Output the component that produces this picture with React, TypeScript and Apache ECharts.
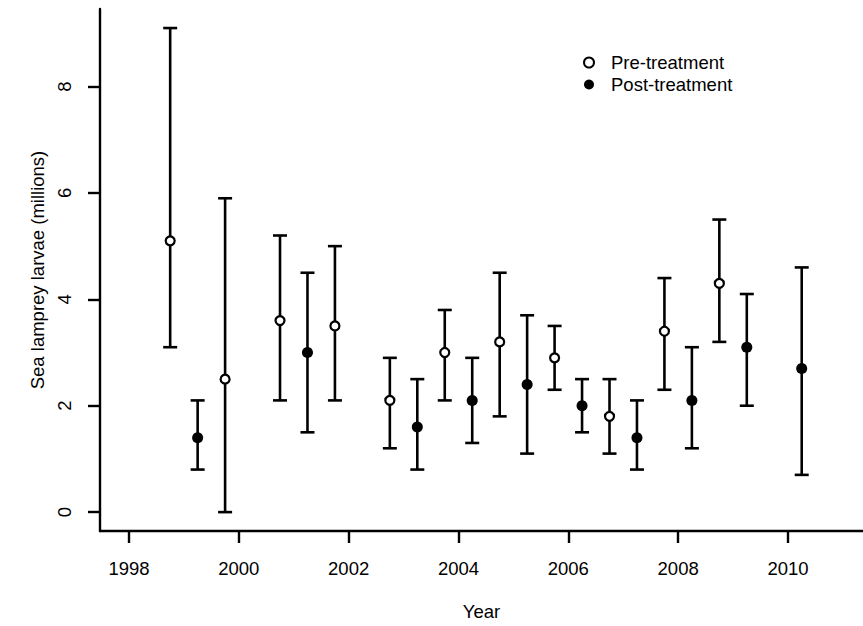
import React, { useEffect, useRef } from "react";
import * as echarts from "echarts";

// Pre-treatment estimates (open circles) with lower / upper bounds
const preYears = [1998.75, 1999.75, 2000.75, 2001.75, 2002.75, 2003.75, 2004.75, 2005.75, 2006.75, 2007.75, 2008.75];
const preMean = [5.1, 2.5, 3.6, 3.5, 2.1, 3.0, 3.2, 2.9, 1.8, 3.4, 4.3];
const preLow = [3.1, 0.0, 2.1, 2.1, 1.2, 2.1, 1.8, 2.3, 1.1, 2.3, 3.2];
const preHigh = [9.1, 5.9, 5.2, 5.0, 2.9, 3.8, 4.5, 3.5, 2.5, 4.4, 5.5];

// Post-treatment estimates (filled circles) with lower / upper bounds
const postYears = [1999.25, 2001.25, 2003.25, 2004.25, 2005.25, 2006.25, 2007.25, 2008.25, 2009.25, 2010.25];
const postMean = [1.4, 3.0, 1.6, 2.1, 2.4, 2.0, 1.4, 2.1, 3.1, 2.7];
const postLow = [0.8, 1.5, 0.8, 1.3, 1.1, 1.5, 0.8, 1.2, 2.0, 0.7];
const postHigh = [2.1, 4.5, 2.5, 2.9, 3.7, 2.5, 2.1, 3.1, 4.1, 4.6];

const xTicks = [1998, 2000, 2002, 2004, 2006, 2008, 2010];
const yTicks = [0, 2, 4, 6, 8];

const FONT = "'Liberation Sans', Arial, Helvetica, sans-serif";
const INK = "#000";

function errorBarSeries(years: number[], lo: number[], hi: number[], name: string) {
  return {
    type: "custom",
    name,
    z: 2,
    data: years.map((y, i) => [y, lo[i], hi[i]]),
    encode: { x: 0, y: [1, 2] },
    renderItem: (_params: any, api: any) => {
      const x = api.value(0);
      const pLo = api.coord([x, api.value(1)]);
      const pHi = api.coord([x, api.value(2)]);
      const cap = 7;
      const style = { stroke: INK, lineWidth: 2.6 };
      return {
        type: "group",
        children: [
          { type: "line", shape: { x1: pLo[0], y1: pLo[1], x2: pHi[0], y2: pHi[1] }, style },
          { type: "line", shape: { x1: pLo[0] - cap, y1: pLo[1], x2: pLo[0] + cap, y2: pLo[1] }, style },
          { type: "line", shape: { x1: pHi[0] - cap, y1: pHi[1], x2: pHi[0] + cap, y2: pHi[1] }, style },
        ],
      };
    },
  };
}

export default function App() {
  const ref = useRef<HTMLDivElement>(null);

  useEffect(() => {
    if (!ref.current) return;
    const chart = echarts.init(ref.current, undefined, { renderer: "svg" });
    chart.setOption({
      animation: false,
      backgroundColor: "#fff",
      textStyle: { fontFamily: FONT, color: INK },
      grid: { left: 100, right: 0, top: 9, bottom: 92, containLabel: false },
      legend: {
        left: 578,
        top: 48,
        orient: "vertical",
        itemWidth: 10,
        itemHeight: 10,
        itemGap: 3,
        selectedMode: false,
        data: [
          { name: "Pre-treatment", icon: "circle", itemStyle: { color: "#fff", borderColor: INK, borderWidth: 2 } },
          { name: "Post-treatment", icon: "circle", itemStyle: { color: INK, borderWidth: 0 } },
        ],
        textStyle: { fontFamily: FONT, fontSize: 18.5, color: INK, padding: [0, 0, 0, 12], lineHeight: 19 },
      },
      xAxis: {
        type: "value",
        min: 1997.472,
        max: 2011.366,
        name: "Year",
        nameLocation: "middle",
        nameGap: 71,
        nameTextStyle: { fontFamily: FONT, fontSize: 18.5, color: INK },
        axisLine: { show: true, onZero: false, lineStyle: { color: INK, width: 2.4 } },
        axisTick: { show: true, length: 12, customValues: xTicks, lineStyle: { color: INK, width: 2.4 } },
        axisLabel: {
          customValues: xTicks,
          margin: 28,
          fontFamily: FONT,
          fontSize: 18.5,
          color: INK,
          formatter: (v: number) => String(Math.round(v)),
        },
        splitLine: { show: false },
      },
      yAxis: {
        type: "value",
        min: -0.355,
        max: 9.458,
        name: "Sea lamprey larvae (millions)",
        nameLocation: "middle",
        nameRotate: 90,
        nameGap: 50,
        nameTextStyle: { fontFamily: FONT, fontSize: 18.5, color: INK },
        axisLine: { show: true, onZero: false, lineStyle: { color: INK, width: 2.4 } },
        axisTick: { show: true, length: 12, customValues: yTicks, lineStyle: { color: INK, width: 2.4 } },
        axisLabel: {
          customValues: yTicks,
          rotate: 90,
          margin: 26,
          fontFamily: FONT,
          fontSize: 18.5,
          color: INK,
        },
        splitLine: { show: false },
      },
      series: [
        errorBarSeries(preYears, preLow, preHigh, "pre-range"),
        errorBarSeries(postYears, postLow, postHigh, "post-range"),
        {
          type: "scatter",
          name: "Pre-treatment",
          z: 3,
          symbol: "circle",
          symbolSize: 9,
          data: preYears.map((y, i) => [y, preMean[i]]),
          itemStyle: { color: "#fff", borderColor: INK, borderWidth: 2.2, opacity: 1 },
        },
        {
          type: "scatter",
          name: "Post-treatment",
          z: 3,
          symbol: "circle",
          symbolSize: 11,
          data: postYears.map((y, i) => [y, postMean[i]]),
          itemStyle: { color: INK, opacity: 1 },
        },
      ],
    });
    return () => chart.dispose();
  }, []);

  return (
    <div
      ref={ref}
      style={{ position: "fixed", left: 0, top: 0, width: 863, height: 626, background: "#fff" }}
    />
  );
}
